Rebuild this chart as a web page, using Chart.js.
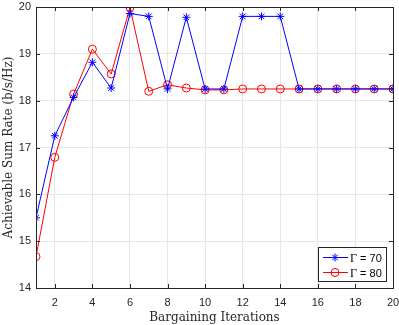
<!DOCTYPE html>
<html>
<head>
<style>
  body { margin: 0; background: #fff; }
  .canvas-hold { position: relative; width: 399px; height: 325px; }
</style>
</head>
<body>
<div class="canvas-hold"><canvas id="c"></canvas></div>
<script src="https://cdn.jsdelivr.net/npm/chart.js@4"></script>
<script>
// iterations 1..20
const iterations = [1,2,3,4,5,6,7,8,9,10,11,12,13,14,15,16,17,18,19,20];
const rateG70 = [15.5,17.25,18.07,18.82,18.27,19.86,19.8,18.25,19.78,18.25,18.25,19.8,19.8,19.8,18.25,18.25,18.25,18.25,18.25,18.25];
const rateG80 = [14.67,16.79,18.14,19.1,18.57,19.99,18.2,18.34,18.27,18.23,18.23,18.25,18.25,18.25,18.25,18.25,18.25,18.25,18.25,18.25];
const seriesNames = ['\u0393 = 70', '\u0393 = 80'];
const xTicks = [2,4,6,8,10,12,14,16,18,20];
const yTicks = [14,15,16,17,18,19,20];

const tickFont = { family: 'Liberation Sans, Arial, sans-serif', size: 11 };
const titleFont = { family: 'DejaVu Serif, serif', size: 12 };

// box around the axes + inward tick marks, like matlab
const boxPlugin = {
    id: 'box',
    afterDatasetsDraw(chart){
        const {ctx, chartArea: a, scales} = chart;
        ctx.save();
        ctx.strokeStyle = '#262626';
        ctx.lineWidth = 1;
        ctx.beginPath();
        xTicks.forEach(t => {
            let px = Math.round(scales.x.getPixelForValue(t)) + 0.5;
            ctx.moveTo(px, a.bottom); ctx.lineTo(px, a.bottom - 4);
            ctx.moveTo(px, a.top); ctx.lineTo(px, a.top + 4);
        });
        yTicks.forEach(t => {
            let py = Math.round(scales.y.getPixelForValue(t)) + 0.5;
            ctx.moveTo(a.left, py); ctx.lineTo(a.left + 4, py);
            ctx.moveTo(a.right, py); ctx.lineTo(a.right - 4, py);
        });
        ctx.stroke();
        ctx.strokeRect(Math.round(a.left) + 0.5, Math.round(a.top) + 0.5, Math.round(a.right - a.left), Math.round(a.bottom - a.top));
        ctx.restore();
    }
};

// legend box in the lower right corner
const legendPlugin = {
    id: 'innerLegend',
    afterDraw(chart){
        const {ctx, chartArea: a} = chart;
        const w = 68, h = 34;
        const x0 = Math.round(a.right) - 75, y0 = Math.round(a.bottom) - 41;
        ctx.save();
        ctx.fillStyle = '#fff';
        ctx.fillRect(x0, y0, w, h);
        ctx.strokeStyle = '#262626';
        ctx.lineWidth = 1;
        ctx.strokeRect(x0 + 0.5, y0 + 0.5, w, h);
        chart.data.datasets.forEach((ds, i) => {
            let yy = y0 + 10.5 + i * 15;
            ctx.strokeStyle = ds.borderColor;
            ctx.fillStyle = ds.backgroundColor;
            ctx.lineWidth = 1;
            ctx.beginPath();
            ctx.moveTo(x0 + 5, yy); ctx.lineTo(x0 + 30, yy);
            ctx.stroke();
            Chart.helpers.drawPoint(ctx, {pointStyle: ds.pointStyle, radius: 4, borderWidth: 1}, x0 + 17, yy);
            ctx.fillStyle = '#000';
            ctx.textBaseline = 'middle';
            ctx.font = '12px Liberation Serif, serif';
            ctx.fillText('\u0393', x0 + 32, yy + 1);
            ctx.font = '11px Liberation Sans, sans-serif';
            ctx.fillText(seriesNames[i].slice(1), x0 + 39, yy + 1);
        });
        ctx.restore();
    }
};

const chart = new Chart(document.getElementById('c').getContext('2d'), {
    type: 'line',
    data: {
        datasets: [{
            label: seriesNames[0],
            data: iterations.map((x, i) => ({x: x, y: rateG70[i]})),
            borderColor: '#0000ff',
            backgroundColor: '#0000ff',
            borderWidth: 1,
            pointStyle: 'star',
            pointRadius: 4,
            pointBorderWidth: 1,
            tension: 0
        }, {
            label: seriesNames[1],
            data: iterations.map((x, i) => ({x: x, y: rateG80[i]})),
            borderColor: '#ff0000',
            backgroundColor: 'rgba(0,0,0,0)',
            borderWidth: 1,
            pointStyle: 'circle',
            pointRadius: 4,
            pointBorderWidth: 1,
            tension: 0
        }]
    },
    options: {
        responsive: true,
        maintainAspectRatio: false,
        animation: false,
        layout: { padding: 0 },
        plugins: { legend: { display: false }, tooltip: { enabled: false } },
        scales: {
            x: {
                type: 'linear',
                min: 1, max: 20,
                afterBuildTicks: s => { s.ticks = xTicks.map(v => ({value: v})); },
                // fix the axis box so the plot area sits where matlab put it
                afterFit: s => { s.height = 37; s.paddingLeft = 0; s.paddingRight = 6; },
                ticks: { font: tickFont, color: '#262626', padding: 8, maxRotation: 0 },
                grid: { color: '#e6e6e6', drawTicks: false },
                border: { display: false },
                title: { display: true, text: 'Bargaining Iterations', font: titleFont, color: '#262626', padding: { top: 0, bottom: 0 } }
            },
            y: {
                min: 14, max: 20,
                afterBuildTicks: s => { s.ticks = yTicks.map(v => ({value: v})); },
                afterFit: s => { s.width = 36; s.paddingTop = 7; s.paddingBottom = 0; },
                ticks: { font: tickFont, color: '#262626', padding: 5 },
                grid: { color: '#e6e6e6', drawTicks: false },
                border: { display: false },
                title: { display: true, text: 'Achievable Sum Rate (b/s/Hz)', font: titleFont, color: '#262626', padding: { top: 2, bottom: 0 } }
            }
        }
    },
    plugins: [boxPlugin, legendPlugin]
});
</script>
</body>
</html>
